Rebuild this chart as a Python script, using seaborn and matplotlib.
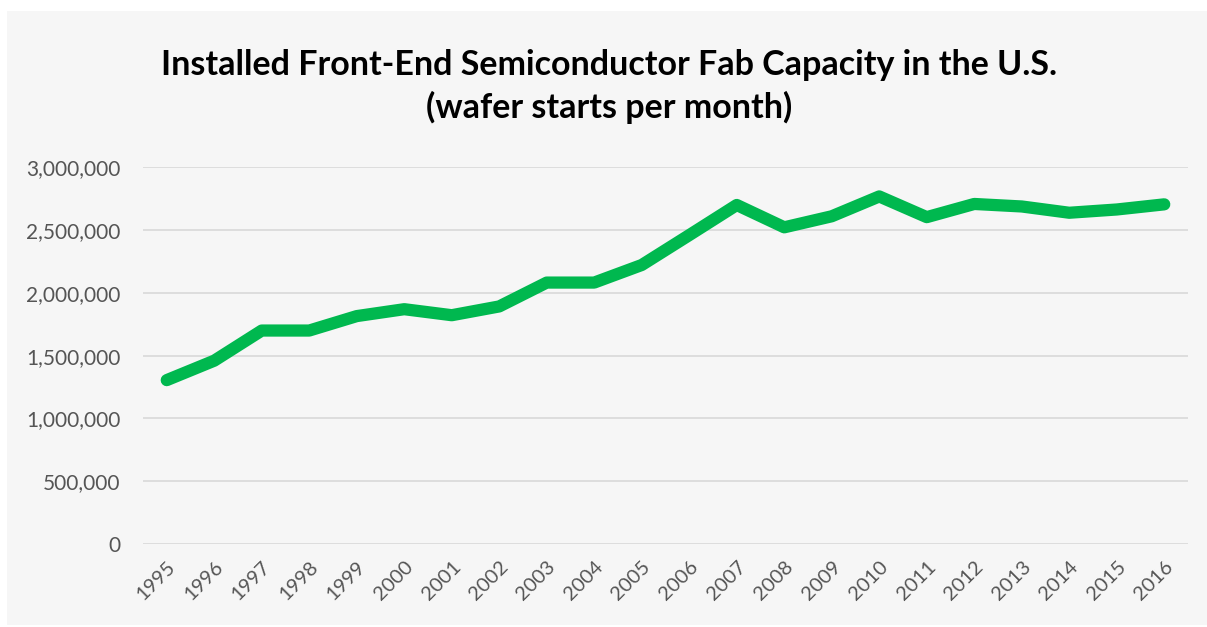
import numpy as np
import pandas as pd
import matplotlib
matplotlib.use("Agg")
import matplotlib.pyplot as plt
from matplotlib.patches import Rectangle
from matplotlib.ticker import FuncFormatter
import seaborn as sns

years = [str(y) for y in range(1995, 2017)]
capacity = [1305000, 1460000, 1700000, 1700000, 1815000, 1870000, 1822000, 1892000,
            2082000, 2082000, 2222000, 2460000, 2700000, 2522000, 2610000, 2768000,
            2603000, 2708000, 2688000, 2638000, 2664000, 2705000]
y_ticks = [0, 500000, 1000000, 1500000, 2000000, 2500000, 3000000]

df = pd.DataFrame({"Year": years, "Capacity": capacity})

sns.set_theme(style="white")
plt.rcParams["font.family"] = ["Lato", "DejaVu Sans"]

fig = plt.figure(figsize=(12.07, 6.27), dpi=100, facecolor="white")
bg = "#f6f6f6"
# grey chart area inside a thin white border
fig.patches.append(Rectangle((7 / 1207, 2 / 627), 1200 / 1207, 614 / 627,
                             transform=fig.transFigure, facecolor=bg,
                             edgecolor="none", zorder=-10))
ax = fig.add_axes([143 / 1207, 1 - 544 / 627, (1188 - 143) / 1207, (544 - 167.3) / 627])
ax.set_zorder(1)
ax.set_facecolor(bg)

sns.lineplot(data=df, x="Year", y="Capacity", ax=ax, color="#00b84f",
             linewidth=8.8, solid_capstyle="round", solid_joinstyle="round",
             sort=False)

ax.set_xlim(-0.5, len(years) - 0.5)
ax.set_ylim(0, 3000000)
ax.set_yticks(y_ticks)
ax.yaxis.set_major_formatter(FuncFormatter(lambda v, p: f"{int(v):,}"))
ax.grid(axis="y", color="#d9d9d9", linewidth=1.2)
ax.set_axisbelow(True)
for s in ax.spines.values():
    s.set_visible(False)

ax.set_xlabel("")
ax.set_ylabel("")
ax.tick_params(axis="y", length=0, pad=16, labelsize=15, labelcolor="#555555")
ax.tick_params(axis="x", length=0, pad=10, labelsize=14.5, labelcolor="#555555")
plt.setp(ax.get_xticklabels(), rotation=45, ha="right", rotation_mode="anchor")

fig.text(0.505, 0.897, "Installed Front-End Semiconductor Fab Capacity in the U.S.",
         ha="center", va="center", fontsize=24.5, fontweight="bold", color="black")
fig.text(0.505, 0.828, "(wafer starts per month)",
         ha="center", va="center", fontsize=24.5, fontweight="bold", color="black")

fig.savefig("out.png", dpi=100, facecolor="white")
